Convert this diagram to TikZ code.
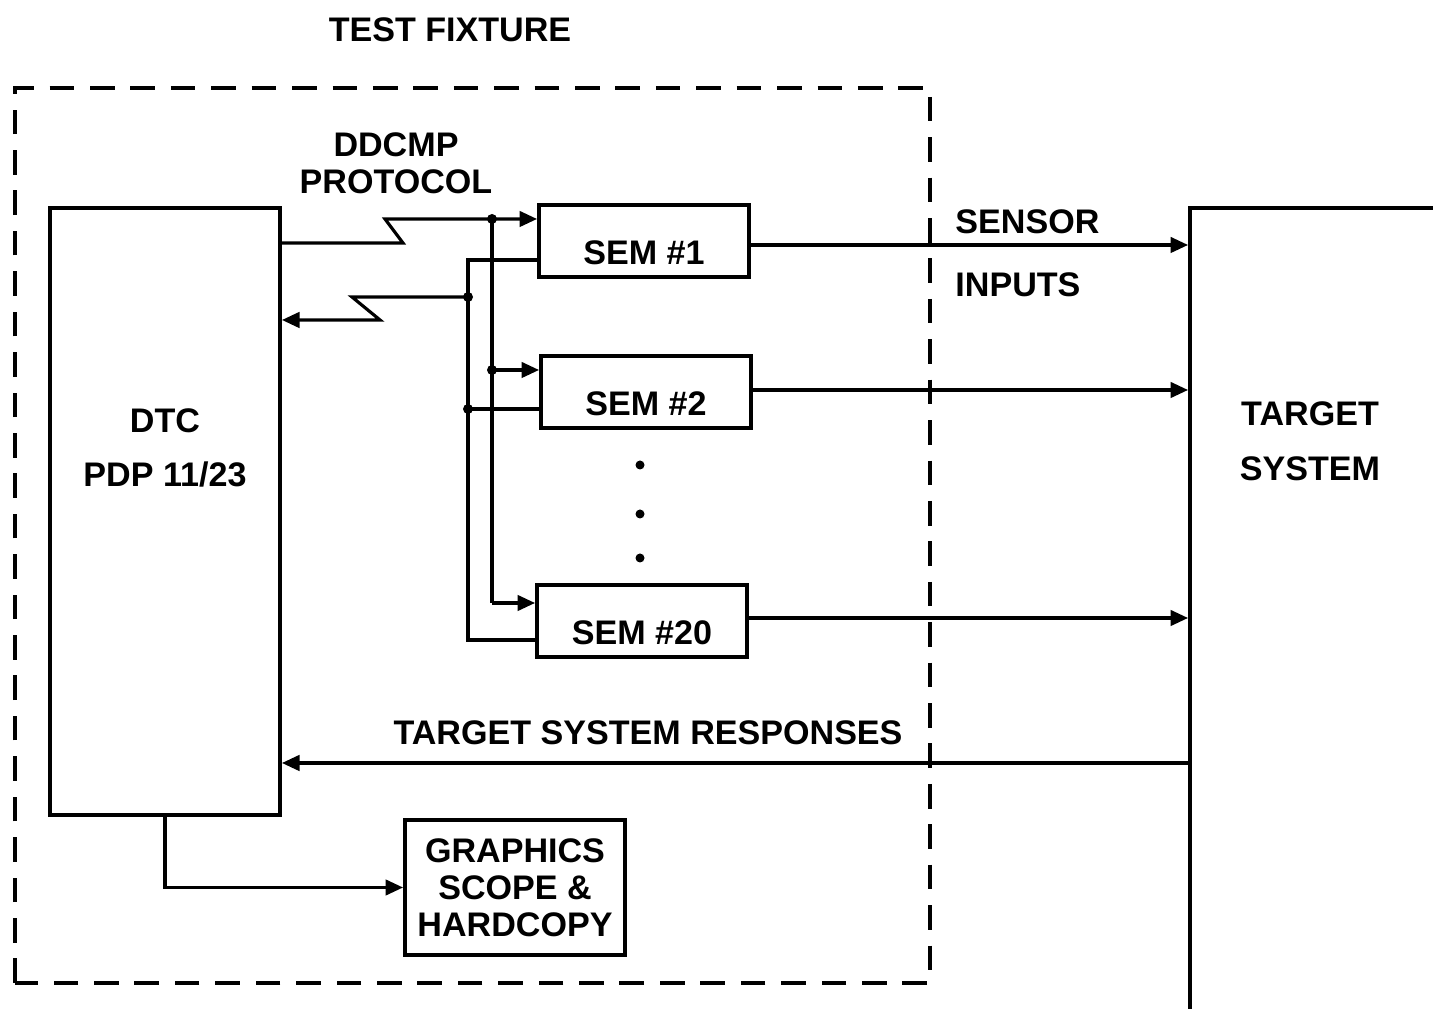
\documentclass[tikz,border=0pt]{standalone}
\usepackage{fontspec}
\setmainfont{Liberation Sans}
\usetikzlibrary{arrows.meta}
\tikzset{blk/.style={draw,line width=1.1pt,minimum width=21mm,minimum height=7.2mm},
 wire/.style={line width=.9pt},flow/.style={wire,-{Triangle[length=5pt,width=4.4pt]}},
 txt/.style={align=center,font=\bfseries\fontsize{9.7}{10.5}\selectfont},
 dot/.style={circle,fill,inner sep=0pt,minimum size=1mm},
 frame/.style={line width=1.2pt,dash pattern=on 7pt off 4.5pt}}
\newcommand\semtxt[1]{\raisebox{-2.4mm}[0pt][0pt]{#1}}

\begin{document}
\begin{tikzpicture}[x=1cm,y=1cm,font=\bfseries\fontsize{9.7}{10.5}\selectfont]
\useasboundingbox (0,0) rectangle (14.33,10.08);
\node[txt](tf) at (4.5,9.78){TEST FIXTURE};
\draw[frame](0.15,0.25) rectangle (9.30,9.20);
\node[blk,minimum width=23mm,minimum height=60.7mm](dtc) at (1.65,4.965){};
\node[txt](dtcl) at (1.65,5.6){DTC\\[5pt]PDP 11/23};
\node[txt](pr) at (3.96,8.45){DDCMP\\PROTOCOL};
\node[blk](s1) at (6.44,7.67){\semtxt{SEM \#1}};
\node[blk](s2) at (6.46,6.16){\semtxt{SEM \#2}};
\node[blk](s20) at (6.42,3.87){\semtxt{SEM \#20}};
\foreach \y in {5.43,4.94,4.50} \fill (6.40,\y) circle (.45mm);
\node[blk,minimum width=28mm,minimum height=83mm](tgt) at (13.30,3.85){};
\node[txt](tgtl) at (13.10,5.665){TARGET\\[5pt]SYSTEM};
\node[blk,txt,minimum width=22mm,minimum height=13.5mm](gfx) at (5.15,1.205){GRAPHICS\\SCOPE \&\\HARDCOPY};
\node[txt,anchor=west](sn) at (9.43,7.86){SENSOR};
\node[txt,anchor=west](in) at (9.43,7.23){INPUTS};
\node[txt](rsp) at (6.48,2.75){TARGET SYSTEM RESPONSES};
\coordinate (zo) at (4.03,7.65);\coordinate (zr) at (3.80,6.88);
\coordinate (b1) at (4.92,7.89);\coordinate (t2) at (4.92,6.38);\coordinate (t20) at (4.92,4.05);
\coordinate (b2) at (4.68,7.11);\coordinate (r1) at (4.68,7.48);\coordinate (r2) at (4.68,5.99);
\coordinate (r20) at (4.68,3.68);
\draw[flow](dtc.east|-zo)--(zo)--(3.85,7.89)--(s1.west|-b1);
\draw[wire](b1)--(t20);
\draw[flow](t2)--(s2.west|-t2);\draw[flow](t20)--(s20.west|-t20);
\draw[wire](s1.west|-r1)--(r1)--(r20)--(s20.west|-r20);\draw[wire](s2.west|-r2)--(r2);
\draw[flow](b2)--(3.52,7.11)--(zr)--(dtc.east|-zr);
\foreach \p in {b1,t2,b2,r2} \node[dot] at (\p){};
\foreach \n/\y in {s1/7.63,s2/6.18,s20/3.90} \draw[flow](\n.east|-0,\y)--(tgt.west|-0,\y);
\draw[flow](tgt.west|-0,2.45)--(dtc.east|-0,2.45);
\draw[flow](dtc.south)--(dtc.south|-gfx.west)--(gfx.west);
\end{tikzpicture}
\end{document}
